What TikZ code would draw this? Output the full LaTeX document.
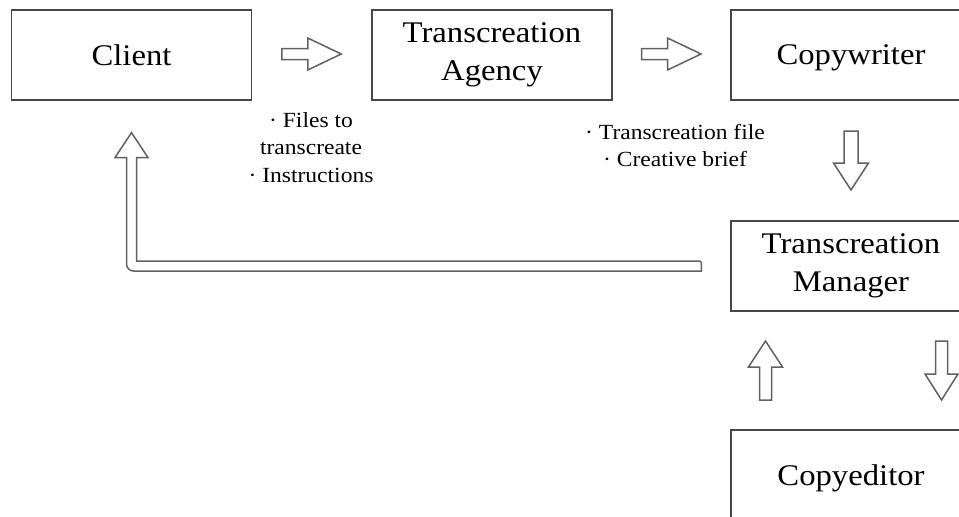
\documentclass[tikz,border=0pt]{standalone}
\usepackage{fontspec}
\setmainfont{Liberation Serif}[FakeStretch=1.09]
\usetikzlibrary{calc}
\tikzset{
  box/.style={draw=black!72, line width=1.2pt, minimum width=240pt, minimum height=90pt,
    inner sep=0pt, align=center, font=\fontsize{30}{37.5}\selectfont},
  onebox/.style={box, text depth=0pt},
  lab/.style={inner sep=0pt, align=center, font=\fontsize{21.6}{27.8}\selectfont},
  barrow/.style={draw=black!62, line width=1.5pt, fill=white, line join=miter}
}
\begin{document}
\begin{tikzpicture}[x=1pt,y=-1pt]
\useasboundingbox (0,0) rectangle (959,517);
\clip (0,0) rectangle (959,517);
% boxes
\node[onebox] (client) at (131.5,55) {Client};
\node[box] (agency) at (492,55) {Transcreation\\Agency};
\node[onebox] (copywriter) at (851,55) {Copywriter};
\node[box] (manager) at (851,266) {Transcreation\\Manager};
\node[onebox] (copyeditor) at (851,475) {Copyeditor};
% labels
\node[lab] (lab1) at (311,147.5) {· Files to\\transcreate\\· Instructions};
\node[lab] (lab2) at (675,145.5) {· Transcreation file\\· Creative brief};
% anchor coordinates for block arrows
\coordinate (a1) at ($(client.east)!0.5!(agency.west)+(0,-1)$);
\coordinate (a2) at ($(agency.east)!0.5!(copywriter.west)+(0,-1)$);
\coordinate (d1) at ($(copywriter.south)!0.5!(manager.north)$);
\coordinate (m2) at ($(manager.south)!0.5!(copyeditor.north)$);
\coordinate (u2) at ($(m2)+(-85.5,0)$);
\coordinate (d2) at ($(m2)+(90.5,0)$);
\coordinate (lstart) at ($(manager.west)+(-29,0)$);
\coordinate (ltip) at ($(client.south)+(0,32)$);
% right arrows
\draw[barrow, shift={(a1)}] (-30,-5.5) -- (-4,-5.5) -- (-4,-16) -- (29.5,0) -- (-4,16) -- (-4,5.5) -- (-30,5.5) -- cycle;
\draw[barrow, shift={(a2)}] (-30,-5.5) -- (-4,-5.5) -- (-4,-16) -- (29.5,0) -- (-4,16) -- (-4,5.5) -- (-30,5.5) -- cycle;
% down arrow copywriter -> manager
\draw[barrow, shift={(d1)}] (-7,-29.5) -- (7,-29.5) -- (7,2.5) -- (17.5,2.5) -- (0,29.5) -- (-17.5,2.5) -- (-7,2.5) -- cycle;
% up arrow copyeditor -> manager
\draw[barrow, shift={(u2)}] (-6,29.5) -- (6,29.5) -- (6,-3.5) -- (17,-3.5) -- (0,-29.5) -- (-17,-3.5) -- (-6,-3.5) -- cycle;
% down arrow manager -> copyeditor
\draw[barrow, shift={(d2)}] (-6,-29.5) -- (6,-29.5) -- (6,3.5) -- (16.5,3.5) -- (0,29.5) -- (-16.5,3.5) -- (-6,3.5) -- cycle;
% L-shaped return arrow manager -> client
\draw[barrow] ($(lstart)+(0,-5)$)
  -- ($(ltip |- lstart)+(5,-5)$)
  -- ($(ltip)+(5,25)$) -- ($(ltip)+(16.5,25)$) -- (ltip) -- ($(ltip)+(-16.5,25)$) -- ($(ltip)+(-5,25)$)
  [rounded corners=7pt] -- ($(ltip |- lstart)+(-5,5)$) [sharp corners] -- ($(lstart)+(0,5)$) [rounded corners=1.5pt] -- cycle;
\end{tikzpicture}
\end{document}
